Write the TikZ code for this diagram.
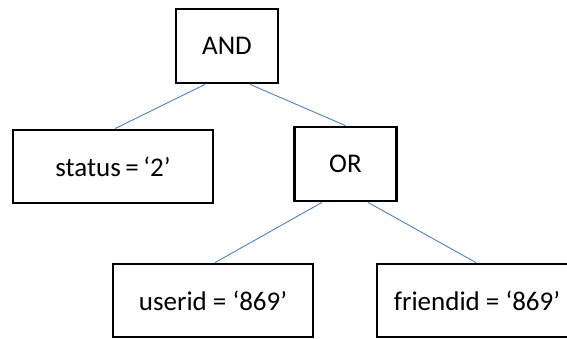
\documentclass[tikz,border=0pt]{standalone}
\usepackage{fontspec}
\setmainfont{Carlito}
\begin{document}
\begin{tikzpicture}[x=1pt,y=-1pt,
  box/.style={draw=black,line width=2.8pt,fill=white,inner sep=0pt,font=\fontsize{27}{32}\selectfont},
  wide/.style={box,minimum width=200pt,minimum height=73pt},
  small/.style={box,minimum width=102pt,minimum height=74pt},
  link/.style={draw={rgb,255:red,79;green,129;blue,189},line width=0.9pt}]
\useasboundingbox (0,0) rectangle (567,339);
\clip (0,0) rectangle (567,339);
\node[small] (and) at (227,46) {AND};
\node[wide] (status) at (113,166.5) {status\,=\,‘2’};
\node[small] (or) at (345.5,164) {OR};
\node[wide] (userid) at (213,300.5) {userid = ‘869’};
\node[wide] (friendid) at (477,300.5) {friendid = ‘869’};
\draw[link] ([xshift=-22pt]and.south) -- ([xshift=2pt]status.north);
\draw[link] ([xshift=23pt]and.south) -- (or.north);
\draw[link] ([xshift=-23.5pt]or.south) -- ([xshift=2pt]userid.north);
\draw[link] ([xshift=22.5pt]or.south) -- ([xshift=-1pt]friendid.north);
\end{tikzpicture}
\end{document}
